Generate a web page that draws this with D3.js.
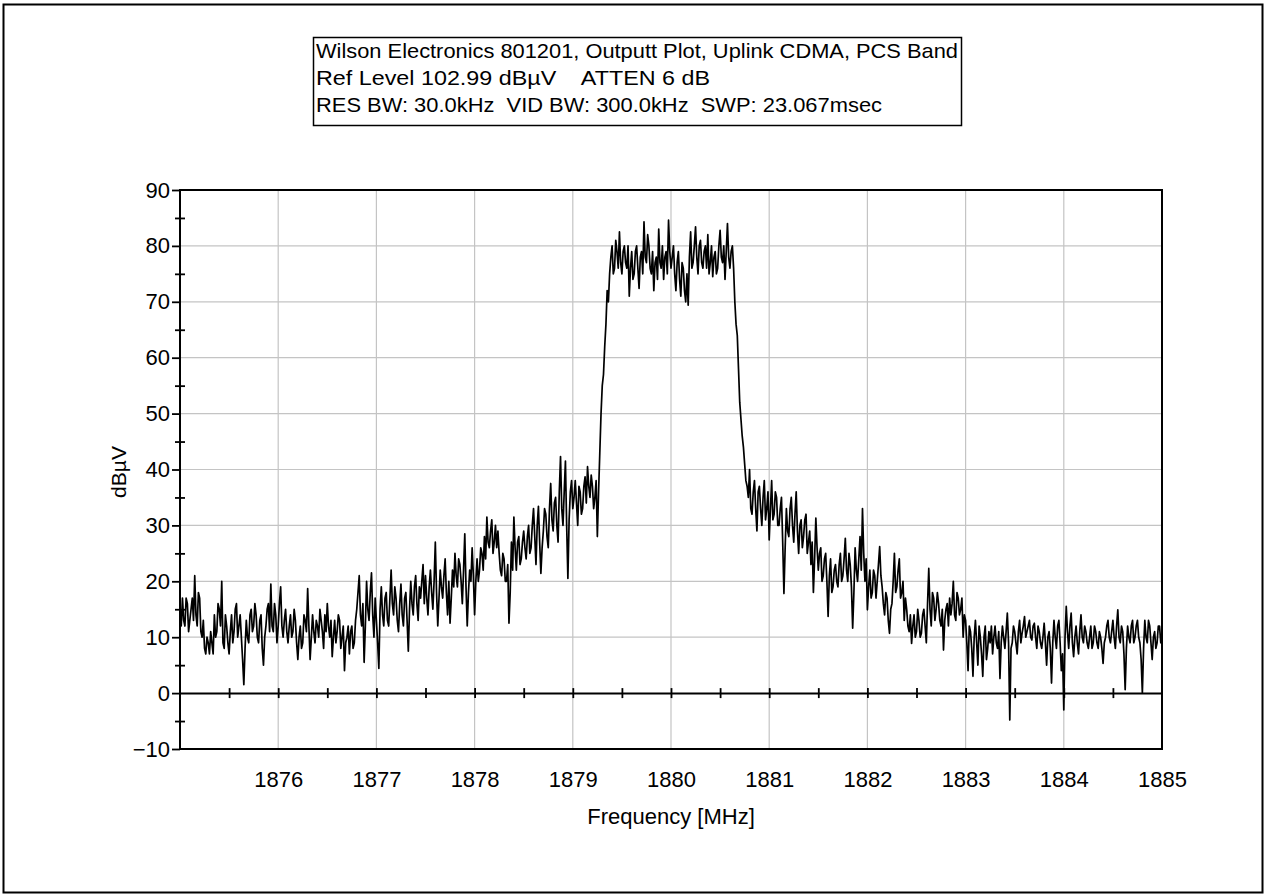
<!DOCTYPE html>
<html>
<head>
<meta charset="utf-8">
<script src="https://cdn.jsdelivr.net/npm/d3@7"></script>
<style>
  html, body { margin: 0; padding: 0; background: #fff; }
  svg { display: block; }
  text { font-family: "Liberation Sans", Arial, sans-serif; fill: #000; }
</style>
</head>
<body>
<svg id="chart" width="1267" height="896"></svg>
<script>
// Spectrum trace, dBµV, sampled every 12.5 kHz; one array per 0.5 MHz span
const levels1875_0 = [15,12, 17,13, 12,17, 16,11, 13,15, 17,13, 21,14, 12,18, 17,11, 10,13, 8,7, 10,9, 7,11, 9,7, 14,10, 11,16, 15,12, 20,9, 8,14, 12,9];
const levels1875_5 = [7,11, 14,9, 11,15, 16,10, 12,14, 10,6, 1.5,8, 13,10, 9,14, 15,11, 12,16, 14,10, 9,13, 14,8, 5,10, 12,15, 16,11, 19.5,12, 11,16, 14,9];
const levels1876_0 = [12,16, 19,12, 10,13, 15,11, 9,12, 14,10, 11,15, 13,9, 6,10, 12,8, 9,14, 13,11, 18.7,12, 6,10, 14,11, 9,13, 12,10, 15,13, 11,8, 14,11];
const levels1876_5 = [16,12, 10,13, 6.5,10, 13,9, 11,14, 13,8, 10,12, 4,9, 10,12, 7,11, 12,8, 9,13, 15,18, 21,14, 12,16, 5.5,12, 20,15, 13,18, 21.5,14, 10,17];
const levels1877_0 = [13,9, 4.4,15, 19,14, 12,17, 18,13, 12,17, 22,16, 14,19, 17,13, 11,16, 19.5,14, 12,17, 18,13, 7.5,15, 20,16, 14,19, 21,16, 13,19, 17,20, 23,16];
const levels1877_5 = [21,17, 14,19, 22,18, 15,20, 27,18, 12,17, 22,19, 17,21, 24,18, 14,20, 12.5,17, 22,19, 25,21, 19,24, 23,20, 16,22, 28.5,19, 12,18, 22,20, 26,21];
const levels1878_0 = [14,20, 24,20, 22,26, 25,22, 28,24, 31.5,27, 26,29, 31,25, 27,30, 26,29, 25,22, 21,25, 24,20, 20,23, 12.5,18, 27,22, 31.5,26, 22,27, 28,23, 24,27];
const levels1878_5 = [29,26, 24,28, 30,25, 26,30, 33,28, 23,30, 33.4,27, 21.4,26, 29,33, 32,28, 26,33, 37.5,31, 29,34, 35,30, 27,36, 42.3,33, 30,36, 41.5,30, 20.5,31, 36,38];
const levels1879_0 = [33,35, 38,34, 30,37, 36,32, 33,37, 38.7,34, 40.5,37, 35,39, 37,33, 35,38, 28,36, 43,50, 55,57, 62,66, 72,70, 75,78, 80,75, 76,81, 79,76, 82.5,77];
const levels1879_5 = [75,79, 80,77, 76,80, 71,76, 79,74, 75,79, 80,76, 72.4,78, 79,75, 84.3,78, 77,82, 80,76, 75,79, 72,77, 78,74, 83,77, 76,80, 74,78, 79,75, 84.6,79];
const levels1880_0 = [76,78, 80,75, 72,77, 79,74, 71,77, 76,72, 70,75, 69.4,78, 82.5,76, 77,80, 83.4,78, 75,80, 81,77, 76,79, 80,76, 82,75, 77,80, 74.5,78, 79,75, 76,80];
const levels1880_5 = [82.8,78, 77,80, 74,79, 84,78, 76,79, 80,76, 70,66, 64,58, 52,49, 46,44, 41,38, 37,35, 40,33, 32,36, 38,33, 29,36, 37,33, 30,35, 38,31, 33,36];
const levels1881_0 = [27.4,33, 38,31, 32,36, 35,30, 30,33, 35,27, 17.8,26, 33,29, 28,33, 35,30, 27,32, 36,29, 25,30, 31,26, 28,31, 32,25, 27,29, 23,27, 18,24, 31.3,26];
const levels1881_5 = [22,25, 26,20, 21,24, 25,20, 13.7,21, 24,18, 19,22, 23,20, 19,23, 25,20, 21,24, 27.7,22, 20,25, 23,19, 11.6,18, 26,22, 20,24, 28,22, 33,25, 20,24];
const levels1882_0 = [14.9,19, 22,17, 18,22, 21,17, 20,23, 26.2,21, 19,16, 14,18, 17,13, 10.7,15, 16,20, 25,18, 19,22, 24,17, 18,20, 13,17, 15,12, 11,14, 8.9,12, 14,10];
const levels1882_5 = [11,15, 13,10, 10.7,14, 15,12, 9,16, 22.3,15, 12,18, 17,13, 15,18, 16,13, 12,15, 7.7,13, 15,16, 12,17, 14,16, 20,14, 13,18, 17,14, 15,17, 10,14];
const levels1883_0 = [13,9, 4,12, 11,8, 3,10, 13,9, 5,12, 10,7, 3,10, 12,6, 8,11, 9,12, 7,10, 12,9, 8,11, 2.6,9, 12,10, 8,11, 14.3,9, -4.8,8, 9,12];
const levels1883_5 = [11,9, 7,11, 13,9, 10.7,12, 13.7,10, 11,12, 13,10, 9.5,12, 12.5,10, 8,12, 11,9, 8,10, 12.5,9, 5,10, 11,8, 1.8,9, 13,10, 8,12, 13,9, 4,7];
const levels1884_0 = [-3,10, 15.5,11, 8,12, 14.3,9, 6.5,10, 12,9, 7,11, 14,10, 9,12, 11,9, 8,10, 12,8, 9,12, 11,9, 8,11, 10,8, 5.3,9, 10,12, 13,10, 9,11];
const levels1884_5 = [13,10, 8,12, 14.9,10, 9,12, 11,7, 0.6,8, 12,10, 9,12, 13,9, 10,12, 13,10, 9,6, 0,8, 13,10, 9,13, 12,9, 6,10, 11,8, 9,12, 12,9, 10];

const startFreq = 1875;      // MHz
const stepFreq = 0.0125;     // MHz between samples

const freqTicks = [1876, 1877, 1878, 1879, 1880, 1881, 1882, 1883, 1884, 1885];
const levelTicks = [-10, 0, 10, 20, 30, 40, 50, 60, 70, 80, 90];

const headerLines = [
  "Wilson Electronics 801201, Outputt Plot, Uplink CDMA, PCS Band",
  "Ref Level 102.99 dBµV    ATTEN 6 dB",
  "RES BW: 30.0kHz  VID BW: 300.0kHz  SWP: 23.067msec"
];

const levels = [].concat(
  levels1875_0, levels1875_5, levels1876_0, levels1876_5, levels1877_0,
  levels1877_5, levels1878_0, levels1878_5, levels1879_0, levels1879_5,
  levels1880_0, levels1880_5, levels1881_0, levels1881_5, levels1882_0,
  levels1882_5, levels1883_0, levels1883_5, levels1884_0, levels1884_5
);
const trace = levels.map((v, i) => ({ f: startFreq + i * stepFreq, v }));

const svg = d3.select("#chart");

// outer frame
svg.append("rect")
  .attr("x", 3.5).attr("y", 4.5).attr("width", 1259).attr("height", 888)
  .attr("fill", "#fff").attr("stroke", "#000").attr("stroke-width", 2);

// header box
const header = svg.append("g");
header.append("rect")
  .attr("x", 313.5).attr("y", 37.5).attr("width", 648).attr("height", 88)
  .attr("fill", "#fff").attr("stroke", "#000").attr("stroke-width", 1.5);
const headerWidths = [642, 394, 566];
header.selectAll("text.hdr").data(headerLines).join("text")
  .attr("class", "hdr")
  .attr("x", 316)
  .attr("y", (d, i) => 58 + i * 27)
  .attr("font-size", 21)
  .attr("textLength", (d, i) => headerWidths[i])
  .attr("lengthAdjust", "spacingAndGlyphs")
  .style("white-space", "pre")
  .text(d => d);

// plot area
const plotL = 180, plotR = 1162, plotT = 190, plotB = 749;
const x = d3.scaleLinear().domain([1875, 1885]).range([plotL, plotR]);
const y = d3.scaleLinear().domain([-10, 90]).range([plotB, plotT]);

const grid = svg.append("g").attr("stroke", "#c4c4c4").attr("stroke-width", 1.2);
grid.selectAll("line.v").data(freqTicks.filter(f => f < 1885)).join("line")
  .attr("class", "v")
  .attr("x1", d => x(d)).attr("x2", d => x(d))
  .attr("y1", plotT).attr("y2", plotB);
grid.selectAll("line.h").data(levelTicks.filter(v => v > 0 && v < 90)).join("line")
  .attr("class", "h")
  .attr("x1", plotL).attr("x2", plotR)
  .attr("y1", d => y(d)).attr("y2", d => y(d));

// zero-level axis with half-MHz ticks
const halfMHz = d3.range(1875.5, 1885, 0.5);
const zeroAxis = svg.append("g").attr("transform", `translate(0,${y(0)})`)
  .call(d3.axisBottom(x).tickValues(halfMHz).tickSize(5).tickFormat("").tickSizeOuter(0));
zeroAxis.select(".domain").attr("stroke", "#000").attr("stroke-width", 2);
zeroAxis.selectAll(".tick line").attr("y1", -5).attr("stroke-width", 1.8);

// frequency labels along the bottom
const xAxis = svg.append("g").attr("transform", `translate(0,${plotB})`)
  .call(d3.axisBottom(x).tickValues(freqTicks).tickFormat(d3.format("d"))
    .tickSize(0).tickPadding(22).tickSizeOuter(0));
xAxis.select(".domain").remove();
xAxis.selectAll(".tick text").attr("font-size", 22).attr("font-family", "Liberation Sans, Arial, sans-serif");

// level axis
const yAxis = svg.append("g").attr("transform", `translate(${plotL},0)`)
  .call(d3.axisLeft(y).tickValues(levelTicks).tickSize(8).tickPadding(2).tickSizeOuter(0));
yAxis.select(".domain").remove();
yAxis.selectAll(".tick line").attr("stroke-width", 1.8);
yAxis.selectAll(".tick text").attr("font-size", 22).attr("font-family", "Liberation Sans, Arial, sans-serif");

const yMinor = svg.append("g").attr("transform", `translate(${plotL},0)`)
  .call(d3.axisLeft(y).tickValues(d3.range(-5, 90, 10)).tickSize(5).tickFormat("").tickSizeOuter(0));
yMinor.select(".domain").remove();
yMinor.selectAll(".tick line").attr("x1", 5).attr("stroke-width", 1.8);

// trace
const line = d3.line().x(d => x(d.f)).y(d => y(d.v));
svg.append("path")
  .datum(trace)
  .attr("d", line)
  .attr("fill", "none")
  .attr("stroke", "#000")
  .attr("stroke-width", 1.7)
  .attr("stroke-linejoin", "round");

// plot frame
svg.append("rect")
  .attr("x", plotL).attr("y", plotT).attr("width", plotR - plotL).attr("height", plotB - plotT)
  .attr("fill", "none").attr("stroke", "#000").attr("stroke-width", 2);

// axis titles
svg.append("text")
  .attr("x", x(1880)).attr("y", 824)
  .attr("text-anchor", "middle").attr("font-size", 22)
  .text("Frequency [MHz]");
svg.append("text")
  .attr("transform", `translate(126,472) rotate(-90)`)
  .attr("text-anchor", "middle").attr("font-size", 21)
  .text("dBµV");
</script>
</body>
</html>
